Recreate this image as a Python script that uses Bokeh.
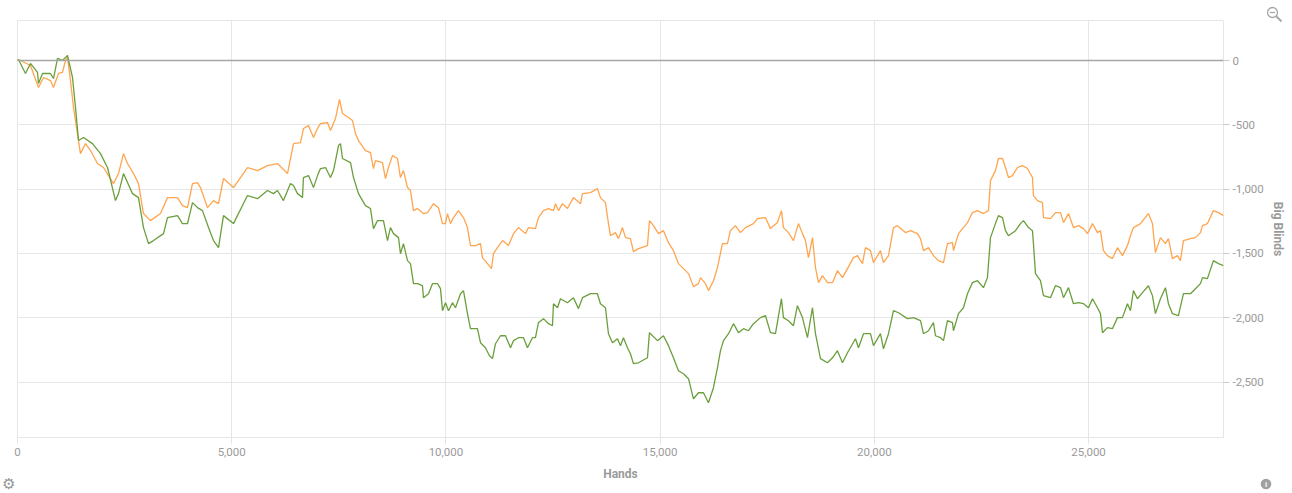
from bokeh.plotting import figure
from bokeh.models import Range1d, FixedTicker, NumeralTickFormatter, Span, Div
from bokeh.layouts import column
from bokeh.embed import file_html
from bokeh.resources import INLINE

orange_hands = [0, 23, 303, 490, 607, 770, 840, 957, 1050, 1120, 1167, 1237, 1307, 1470, 1587, 1704, 1867, 2007, 2241, 2357, 2474, 2567, 2708, 2824, 2941, 3104, 3338, 3501, 3734, 3851, 3968, 4085, 4201, 4271, 4435, 4575, 4692, 4808, 5041, 5368, 5602, 5835, 6068, 6302, 6442, 6605, 6675, 6792, 6909, 7002, 7072, 7236, 7306, 7422, 7516, 7586, 7726, 7819, 7889, 7959, 8122, 8239, 8309, 8356, 8519, 8589, 8659, 8753, 8869, 8939, 9009, 9103, 9173, 9243, 9336, 9476, 9569, 9710, 9826, 9920, 9990, 10036, 10106, 10177, 10293, 10410, 10503, 10573, 10690, 10807, 10853, 10970, 11063, 11110, 11203, 11320, 11460, 11577, 11693, 11857, 11927, 12090, 12160, 12277, 12394, 12510, 12557, 12627, 12720, 12837, 12977, 13141, 13187, 13374, 13537, 13607, 13724, 13794, 13841, 13957, 14027, 14121, 14191, 14307, 14377, 14494, 14704, 14751, 14844, 14961, 15078, 15195, 15311, 15428, 15545, 15662, 15778, 15895, 15942, 16058, 16128, 16245, 16338, 16455, 16571, 16641, 16758, 16875, 16992, 17178, 17272, 17458, 17575, 17738, 17832, 17878, 17995, 18112, 18229, 18322, 18392, 18462, 18556, 18626, 18696, 18789, 18906, 19023, 19139, 19256, 19373, 19513, 19606, 19723, 19793, 19910, 19980, 20143, 20213, 20330, 20447, 20540, 20727, 20843, 21007, 21077, 21147, 21264, 21380, 21497, 21614, 21707, 21824, 21847, 21964, 22057, 22174, 22290, 22407, 22547, 22664, 22711, 22827, 22897, 22991, 23061, 23131, 23224, 23341, 23458, 23574, 23691, 23714, 23808, 23924, 23948, 24111, 24228, 24345, 24415, 24531, 24648, 24765, 24882, 24975, 25092, 25208, 25278, 25348, 25441, 25558, 25675, 25791, 25908, 25978, 26048, 26211, 26398, 26491, 26561, 26678, 26795, 26865, 26958, 27075, 27145, 27215, 27379, 27495, 27612, 27659, 27775, 27915, 28032, 28150]
orange_bb = [0, 8, -39, -210, -132, -156, -210, -101, -93, 0, 23, -156, -366, -724, -646, -700, -801, -832, -957, -879, -724, -801, -879, -957, -1190, -1245, -1190, -1066, -1066, -1128, -1144, -957, -949, -988, -1144, -1089, -1113, -918, -988, -832, -856, -817, -801, -879, -646, -638, -529, -506, -599, -529, -490, -482, -545, -451, -303, -412, -443, -467, -568, -622, -700, -716, -840, -778, -794, -918, -832, -739, -762, -910, -856, -988, -1011, -1167, -1151, -1190, -1183, -1113, -1144, -1268, -1268, -1190, -1268, -1221, -1167, -1221, -1299, -1439, -1439, -1424, -1533, -1579, -1618, -1502, -1455, -1400, -1439, -1346, -1299, -1346, -1299, -1307, -1221, -1167, -1151, -1167, -1113, -1167, -1113, -1151, -1066, -1113, -1035, -1027, -996, -1066, -1105, -1268, -1362, -1338, -1385, -1299, -1377, -1385, -1486, -1463, -1439, -1245, -1284, -1346, -1323, -1416, -1478, -1579, -1618, -1657, -1758, -1735, -1688, -1735, -1789, -1712, -1610, -1424, -1424, -1323, -1284, -1338, -1299, -1268, -1229, -1221, -1307, -1260, -1167, -1299, -1338, -1400, -1268, -1346, -1400, -1533, -1377, -1610, -1727, -1673, -1727, -1727, -1634, -1688, -1618, -1533, -1517, -1579, -1455, -1478, -1572, -1478, -1572, -1517, -1299, -1284, -1338, -1323, -1346, -1385, -1478, -1455, -1517, -1556, -1572, -1424, -1416, -1478, -1346, -1307, -1260, -1183, -1167, -1190, -1167, -934, -856, -762, -762, -832, -910, -895, -832, -817, -840, -910, -1050, -1089, -1105, -1221, -1229, -1183, -1183, -1260, -1190, -1299, -1284, -1307, -1346, -1268, -1338, -1323, -1478, -1517, -1540, -1455, -1517, -1439, -1362, -1299, -1268, -1190, -1268, -1494, -1377, -1424, -1385, -1540, -1517, -1556, -1400, -1385, -1377, -1338, -1284, -1268, -1167, -1183, -1206]

green_hands = [0, 23, 187, 303, 467, 490, 584, 770, 840, 934, 1050, 1167, 1284, 1354, 1424, 1541, 1751, 1937, 2101, 2287, 2357, 2474, 2684, 2824, 2941, 3058, 3174, 3408, 3501, 3734, 3851, 3968, 4085, 4201, 4318, 4458, 4575, 4692, 4808, 5041, 5368, 5602, 5835, 5975, 6068, 6208, 6372, 6442, 6535, 6652, 6675, 6792, 6909, 7002, 7072, 7189, 7306, 7376, 7493, 7539, 7586, 7773, 7843, 7959, 8122, 8239, 8309, 8402, 8542, 8636, 8706, 8776, 8893, 8939, 9009, 9103, 9173, 9243, 9336, 9453, 9476, 9593, 9686, 9803, 9873, 9920, 9990, 10060, 10153, 10223, 10340, 10410, 10503, 10573, 10736, 10807, 10923, 11016, 11087, 11157, 11274, 11390, 11507, 11577, 11693, 11810, 11903, 12020, 12090, 12160, 12277, 12394, 12487, 12510, 12604, 12674, 12837, 12977, 13094, 13187, 13374, 13537, 13607, 13724, 13794, 13887, 14004, 14074, 14144, 14237, 14307, 14377, 14494, 14704, 14751, 14938, 15078, 15195, 15311, 15428, 15545, 15662, 15778, 15895, 16012, 16128, 16245, 16338, 16409, 16479, 16596, 16712, 16829, 16946, 17062, 17179, 17342, 17459, 17575, 17692, 17832, 17878, 17995, 18112, 18205, 18322, 18439, 18556, 18626, 18743, 18906, 19023, 19139, 19256, 19373, 19560, 19630, 19747, 19910, 19980, 20143, 20213, 20330, 20447, 20563, 20773, 20913, 21077, 21147, 21264, 21380, 21427, 21544, 21614, 21707, 21824, 21847, 21964, 22080, 22174, 22290, 22407, 22547, 22640, 22711, 22827, 22897, 22991, 23061, 23131, 23294, 23411, 23481, 23597, 23691, 23714, 23761, 23878, 23948, 24111, 24228, 24345, 24415, 24531, 24648, 24765, 24882, 24998, 25092, 25208, 25278, 25325, 25441, 25558, 25675, 25791, 25908, 25978, 26048, 26141, 26258, 26398, 26491, 26561, 26678, 26795, 26865, 26958, 27098, 27215, 27379, 27495, 27612, 27659, 27775, 27915, 28032, 28150]
green_bb = [0, 8, -101, -23, -93, -179, -101, -101, -140, 16, 0, 39, -132, -366, -622, -599, -646, -724, -832, -1089, -1035, -879, -1035, -1066, -1299, -1424, -1400, -1346, -1221, -1206, -1268, -1268, -1105, -1144, -1167, -1299, -1400, -1455, -1206, -1268, -1050, -1074, -1011, -1035, -1011, -1089, -957, -972, -1035, -1066, -910, -895, -988, -895, -840, -832, -910, -856, -661, -646, -762, -794, -910, -1035, -1128, -1151, -1307, -1245, -1245, -1400, -1299, -1346, -1377, -1502, -1424, -1556, -1579, -1735, -1735, -1751, -1844, -1813, -1735, -1735, -1774, -1945, -1883, -1945, -1883, -1922, -1813, -1789, -1968, -2085, -2085, -2194, -2233, -2295, -2318, -2202, -2140, -2140, -2233, -2178, -2155, -2155, -2233, -2155, -2155, -2038, -2007, -2046, -2062, -1891, -1922, -1852, -1883, -1844, -1929, -1844, -1813, -1813, -1891, -1922, -2124, -2194, -2163, -2217, -2155, -2233, -2280, -2357, -2350, -2311, -2116, -2178, -2140, -2217, -2311, -2412, -2435, -2474, -2630, -2583, -2583, -2661, -2544, -2388, -2256, -2178, -2124, -2046, -2116, -2085, -2101, -2046, -1999, -1984, -2116, -2124, -1852, -1999, -2023, -2062, -1906, -1999, -2155, -1922, -2124, -2318, -2350, -2311, -2256, -2350, -2272, -2163, -2233, -2124, -2124, -2217, -2124, -2241, -2124, -1945, -1961, -2007, -1999, -2023, -2124, -2101, -2038, -2140, -2155, -2178, -2023, -2038, -2101, -1968, -1922, -1813, -1727, -1712, -1766, -1688, -1377, -1268, -1206, -1221, -1323, -1362, -1323, -1268, -1245, -1299, -1323, -1424, -1657, -1712, -1828, -1844, -1751, -1766, -1844, -1766, -1891, -1883, -1891, -1922, -1852, -1922, -1968, -2116, -2077, -2085, -1999, -1999, -1891, -1945, -1789, -1852, -1805, -1751, -1828, -1968, -1852, -1766, -1891, -1968, -1984, -1813, -1813, -1774, -1735, -1688, -1696, -1556, -1579, -1595]

x_ticks = [0, 5000, 10000, 15000, 20000, 25000]
y_ticks = [-2500, -2000, -1500, -1000, -500, 0]

FONT = "Roboto"
GRID = "#e6e6e6"
LABEL = "#9a9a9a"

p = figure(width=1292, height=493, output_backend="svg", toolbar_location=None,
           x_range=Range1d(0, 28150), y_range=Range1d(-2931, 311),
           y_axis_location="right",
           min_border_left=17, min_border_right=69, min_border_top=20, min_border_bottom=56)

p.outline_line_color = GRID
p.background_fill_color = "white"
p.border_fill_color = "white"

p.xgrid.ticker = FixedTicker(ticks=x_ticks)
p.ygrid.ticker = FixedTicker(ticks=y_ticks)
p.xgrid.grid_line_color = GRID
p.ygrid.grid_line_color = GRID

xa = p.xaxis[0]
xa.ticker = FixedTicker(ticks=x_ticks)
xa.formatter = NumeralTickFormatter(format="0,0")
xa.axis_line_color = GRID
xa.major_tick_line_color = GRID
xa.major_tick_out = 7
xa.major_tick_in = 0
xa.minor_tick_line_color = None
xa.major_label_standoff = 3
xa.major_label_text_font = FONT
xa.major_label_text_font_size = "11.5px"
xa.major_label_text_color = LABEL
xa.axis_label = "Hands"
xa.axis_label_text_font = FONT
xa.axis_label_text_font_size = "12px"
xa.axis_label_text_font_style = "bold"
xa.axis_label_text_color = LABEL
xa.axis_label_standoff = 8

ya = p.yaxis[0]
ya.ticker = FixedTicker(ticks=y_ticks)
ya.formatter = NumeralTickFormatter(format="0,0")
ya.axis_line_color = None
ya.major_tick_line_color = "#cccccc"
ya.major_tick_out = 6
ya.major_tick_in = 0
ya.minor_tick_line_color = None
ya.major_label_standoff = 3
ya.major_label_text_font = FONT
ya.major_label_text_font_size = "11.5px"
ya.major_label_text_color = LABEL
ya.axis_label = "Big Blinds"
ya.axis_label_text_font = FONT
ya.axis_label_text_font_size = "12px"
ya.axis_label_text_font_style = "bold"
ya.axis_label_text_color = LABEL
ya.axis_label_standoff = 4

p.add_layout(Span(location=0, dimension="width", line_color="#a6a6a6", line_width=1.5))

p.line(orange_hands, orange_bb, line_color="#ffa54f", line_width=1.3)
p.line(green_hands, green_bb, line_color="#6a9f3c", line_width=1.3)

# small interface icons (zoom, settings, info) drawn as an overlay outside the plot area
icons_svg = (
    '<svg xmlns="http://www.w3.org/2000/svg" width="1292" height="493" '
    'style="position:absolute;left:0;top:0;pointer-events:none;overflow:visible">'
    '<g transform="translate(-5,-5)">'
    '<g fill="none" stroke="#a8a8a8" stroke-width="1.3">'
    '<circle cx="1272.5" cy="12.5" r="5"/>'
    '<line x1="1270" y1="12.5" x2="1275" y2="12.5"/>'
    '<line x1="1276.2" y1="16.2" x2="1281.5" y2="21.5" stroke-width="2"/>'
    '</g>'
    '<text x="8" y="489" font-family="DejaVu Sans" font-size="15" fill="#969696" '
    'text-anchor="middle">\u2699</text>'
    '<circle cx="1266" cy="484" r="5.3" fill="#a0a0a0"/>'
    '<text x="1266" y="487.2" font-family="DejaVu Sans" font-size="8" font-weight="bold" '
    'fill="white" text-anchor="middle">i</text>'
    '</g>'
    '</svg>'
)
icons = Div(text=icons_svg, width=1, height=1,
            styles={"position": "absolute", "left": "0px", "top": "0px",
                    "overflow": "visible", "pointer-events": "none"})

layout = column(p, icons)

open("out.html", "w").write(file_html(layout, INLINE))
